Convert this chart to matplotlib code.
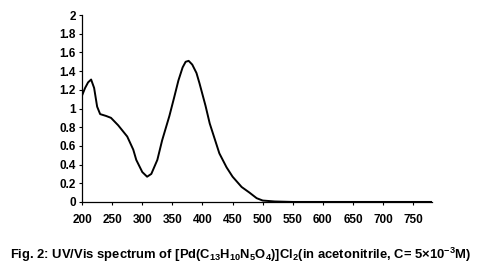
import numpy as np
import matplotlib.pyplot as plt

plt.rcParams['font.family'] = ['Liberation Sans', 'DejaVu Sans']
plt.rcParams['mathtext.default'] = 'regular'

# wavelength (nm) and absorbance
wavelength = [200, 205, 210, 215, 220, 225, 230, 240, 248, 260, 275, 285, 290, 300, 308, 315,
              325, 333, 345, 353, 360, 367, 372, 377, 383, 390, 395, 405, 412, 420, 428, 440,
              450, 465, 478, 490, 500, 520, 550, 600, 650, 700, 750, 780]
absorbance = [1.14, 1.22, 1.28, 1.31, 1.22, 1.02, 0.94, 0.92, 0.90, 0.82, 0.70, 0.56, 0.45, 0.32,
              0.27, 0.30, 0.45, 0.66, 0.92, 1.12, 1.30, 1.44, 1.50, 1.51, 1.47, 1.38, 1.27, 1.03,
              0.84, 0.68, 0.52, 0.37, 0.27, 0.16, 0.10, 0.04, 0.015, 0.005, 0.0, 0.0, 0.0, 0.0,
              0.0, 0.0]
x_ticks = [200, 250, 300, 350, 400, 450, 500, 550, 600, 650, 700, 750]
y_ticks = [0, 0.2, 0.4, 0.6, 0.8, 1, 1.2, 1.4, 1.6, 1.8, 2]
y_labels = ['0', '0.2', '0.4', '0.6', '0.8', '1', '1.2', '1.4', '1.6', '1.8', '2']

fig = plt.figure(figsize=(4.8, 2.74), dpi=100)
ax = fig.add_axes([0.171, 0.263, 0.73, 0.682])
ax.plot(wavelength, absorbance, color='black', lw=1.4)

ax.set_xlim(200, 782)
ax.set_ylim(0, 2)
ax.set_xticks(x_ticks)
ax.set_yticks(y_ticks)
ax.set_yticklabels(y_labels)
for s in ['top', 'right']:
    ax.spines[s].set_visible(False)
ax.spines['left'].set_linewidth(0.9)
ax.spines['bottom'].set_linewidth(0.9)
ax.tick_params(axis='both', length=2.5, width=0.8, labelsize=8.5)
ax.tick_params(axis='x', pad=6)
ax.tick_params(axis='y', pad=2)
for lab in ax.get_xticklabels() + ax.get_yticklabels():
    lab.set_fontweight('bold')

fig.text(0.5, 0.07,
         'Fig. 2: UV/Vis spectrum of [Pd(C$_{13}$H$_{10}$N$_5$O$_4$)]Cl$_2$(in acetonitrile, C= 5\u00d710$^{-3}$M)',
         ha='center', va='center', fontsize=9.4, fontweight='bold')

fig.savefig('out.png', dpi=100)
